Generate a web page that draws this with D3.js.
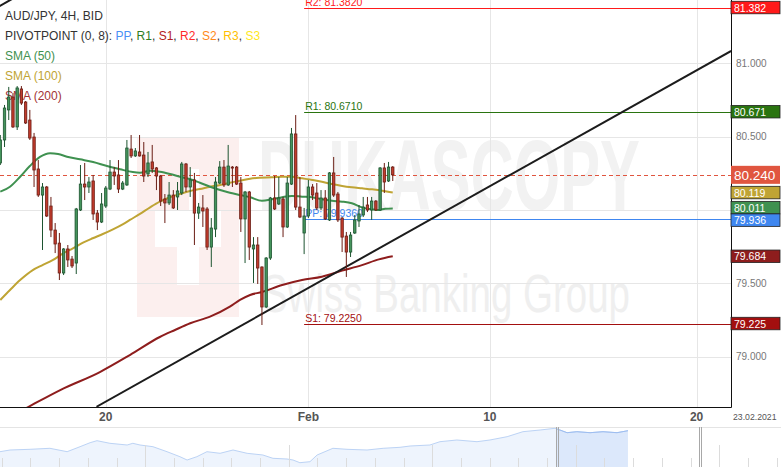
<!DOCTYPE html>
<html>
<head>
<meta charset="utf-8">
<script src="https://cdn.jsdelivr.net/npm/d3@7"></script>
<style>
  body { margin: 0; background: #fff; }
  svg { display: block; font-family: "Liberation Sans", Arial, sans-serif; }
</style>
</head>
<body>
<div id="chart"></div>
<script>

// AUD/JPY 4H candles: [open, high, low, close]
var candles = [
  [80.321, 80.512, 80.307, 80.478], [80.478, 80.717, 80.430, 80.696], [80.683, 80.840, 80.614, 80.771],
  [80.771, 80.798, 80.560, 80.567], [80.567, 80.846, 80.546, 80.833], [80.826, 80.846, 80.717, 80.730],
  [80.737, 80.744, 80.587, 80.594], [80.614, 80.683, 80.478, 80.491], [80.498, 80.526, 80.157, 80.273],
  [80.280, 80.341, 80.089, 80.102], [80.102, 80.184, 79.727, 80.157], [80.157, 80.164, 79.952, 79.959],
  [80.027, 80.089, 79.815, 79.863], [79.863, 79.911, 79.706, 79.768], [79.774, 79.843, 79.522, 79.570],
  [79.570, 79.740, 79.556, 79.734], [79.734, 79.761, 79.611, 79.659], [79.665, 79.686, 79.604, 79.618],
  [79.638, 80.014, 79.563, 80.007], [80.000, 80.307, 79.993, 80.177], [80.177, 80.321, 80.068, 80.157],
  [80.157, 80.225, 80.116, 80.191], [80.198, 80.239, 79.932, 79.973], [79.979, 80.000, 79.863, 79.918],
  [79.918, 80.116, 79.911, 80.041], [80.027, 80.164, 80.014, 80.150], [80.143, 80.341, 80.136, 80.259],
  [80.259, 80.293, 80.171, 80.232], [80.239, 80.341, 80.116, 80.143], [80.143, 80.198, 80.136, 80.184],
  [80.171, 80.478, 80.164, 80.423], [80.416, 80.512, 80.355, 80.369], [80.369, 80.423, 80.362, 80.403],
  [80.396, 80.512, 80.365, 80.369], [80.375, 80.464, 80.191, 80.232], [80.246, 80.396, 80.225, 80.321],
  [80.328, 80.444, 80.253, 80.280], [80.287, 80.293, 80.136, 80.232], [80.232, 80.239, 80.027, 80.061],
  [80.075, 80.109, 79.911, 80.048], [80.048, 80.191, 80.034, 80.102], [80.102, 80.136, 80.007, 80.014],
  [80.089, 80.191, 80.000, 80.130], [80.116, 80.328, 80.102, 80.314], [80.314, 80.321, 80.123, 80.157],
  [80.157, 80.293, 80.089, 80.205], [80.205, 80.253, 79.761, 79.979], [79.979, 80.048, 79.939, 80.020],
  [80.014, 80.102, 79.884, 79.993], [80.007, 80.020, 79.727, 79.747], [79.747, 79.945, 79.611, 79.877],
  [79.870, 80.225, 79.815, 80.191], [80.184, 80.334, 80.177, 80.293], [80.293, 80.341, 80.157, 80.171],
  [80.171, 80.444, 80.164, 80.300], [80.293, 80.300, 80.157, 80.287], [80.293, 80.300, 80.171, 80.177],
  [80.184, 80.225, 79.850, 79.939], [79.939, 80.130, 79.638, 80.123], [80.123, 80.130, 79.659, 79.747],
  [79.734, 79.815, 79.502, 79.761], [79.761, 79.815, 79.495, 79.604], [79.611, 79.615, 79.215, 79.338],
  [79.338, 79.679, 79.331, 79.672], [79.672, 80.089, 79.659, 80.082], [80.082, 80.232, 80.000, 80.007],
  [80.041, 80.225, 80.034, 80.082], [80.075, 80.089, 79.815, 79.884], [79.884, 80.225, 79.877, 80.184],
  [80.177, 80.560, 80.171, 80.519], [80.519, 80.648, 80.000, 80.020], [80.020, 80.225, 79.945, 79.952],
  [79.843, 80.014, 79.699, 79.959], [79.959, 80.205, 79.945, 80.157], [80.157, 80.177, 80.068, 80.102],
  [80.116, 80.184, 80.000, 80.014], [80.014, 80.136, 80.000, 80.082], [80.082, 80.136, 79.932, 79.939],
  [79.932, 80.259, 79.925, 80.253], [80.253, 80.362, 80.089, 80.102], [80.109, 80.123, 79.918, 79.932],
  [79.945, 79.952, 79.713, 79.815], [79.822, 79.850, 79.543, 79.713], [79.713, 79.850, 79.679, 79.829],
  [79.843, 79.966, 79.836, 79.932], [79.925, 80.034, 79.884, 79.973], [79.966, 80.089, 79.952, 80.020],
  [80.034, 80.089, 79.986, 80.000], [80.000, 80.089, 79.932, 80.061], [80.061, 80.068, 79.993, 80.000],
  [80.000, 80.293, 79.993, 80.287], [80.287, 80.321, 80.116, 80.191], [80.198, 80.328, 80.191, 80.293],
  [80.293, 80.300, 80.198, 80.240]
];

// moving averages: [candle index, value]
var sma50 = [
  [0, 80.125], [2.3, 80.159], [4.7, 80.227], [7, 80.300], [9.4, 80.362], [11.8, 80.387], [13.7, 80.382],
  [15.8, 80.364], [18.9, 80.346], [22, 80.328], [25.3, 80.300], [28.4, 80.278], [31.4, 80.259],
  [33.1, 80.255], [35.5, 80.268], [37.8, 80.261], [40.2, 80.246], [42.6, 80.227], [45, 80.210],
  [47.3, 80.186], [49.7, 80.159], [52.1, 80.136], [54.4, 80.118], [56.8, 80.102], [59.2, 80.087],
  [62, 80.063], [64.4, 80.073], [66.8, 80.087], [69.1, 80.096], [71.5, 80.091], [73.9, 80.087],
  [76.2, 80.073], [78.6, 80.063], [81, 80.057], [83.3, 80.046], [85.7, 80.018], [88.1, 80.005],
  [89.7, 80.000], [91.2, 80.009], [93, 80.011]
];
var sma100 = [
  [0, 79.386], [2.3, 79.454], [4.7, 79.522], [7.7, 79.590], [10.1, 79.625], [12.5, 79.659], [14.9, 79.704],
  [17.2, 79.738], [19.6, 79.777], [21.9, 79.807], [24.3, 79.836], [26.7, 79.868], [29.1, 79.904],
  [30.7, 79.932], [33.1, 79.973], [35.5, 80.018], [37.8, 80.057], [40.2, 80.087], [42.6, 80.109],
  [45, 80.130], [47.3, 80.143], [49.7, 80.159], [52.1, 80.171], [54.4, 80.186], [56.8, 80.200],
  [59.2, 80.214], [61.5, 80.220], [64.4, 80.223], [66.8, 80.227], [69.1, 80.227], [71.5, 80.216],
  [73.9, 80.205], [76.2, 80.193], [78.6, 80.177], [81, 80.164], [83.3, 80.155], [85.7, 80.148],
  [88.1, 80.141], [90.5, 80.132], [93, 80.119]
];
var sma200 = [
  [0, 78.553], [6.6, 78.655], [14.2, 78.771], [23.6, 78.894], [30.7, 79.010], [37.8, 79.133],
  [41.4, 79.181], [45, 79.227], [49.7, 79.272], [54.4, 79.340], [56.8, 79.386], [59.2, 79.420],
  [62, 79.440], [66.8, 79.488], [71.5, 79.522], [76.2, 79.545], [81, 79.586], [85.7, 79.624],
  [89.7, 79.663], [93, 79.684]
];

// weekly pivot points, starting at the first candle of the week
var pivotNames = ["R2", "R1", "PP", "S1"];
var pivotValues = [81.382, 80.671, 79.936, 79.225];
var pivotStart = 72;

// hand drawn trend lines: [candle index, price]
var trendMain = [[22.8, 78.657], [173.2, 81.086]];
var trendUpper = [[-1, 81.379], [12, 81.589]];

var lastPrice = 80.240;
var priceTicks = [81.0, 80.5, 80.0, 79.5, 79.0];
var dateTickIdx = [25, 73, 116, 165];
var dateTickLabels = ["20", "Feb", "10", "20"];
var endDate = "23.02.2021";

// navigator overview line: [week, level]
var navLine = [
  [-0.06, 77.06], [0.29, 77.4], [0.99, 77.54], [1.68, 77.74], [2.28, 77.06], [2.73, 78.06], [3.08, 78.86],
  [3.32, 79.26], [3.77, 78.74], [4.37, 78.4], [4.57, 78.74], [4.82, 78.4], [5.27, 78.06], [5.76, 77.06],
  [6.21, 76.06], [6.46, 75.4], [6.8, 76.06], [7.15, 77.06], [7.61, 76.74], [8.06, 77.4], [8.55, 76.74],
  [9.1, 76.4], [9.45, 75.74], [9.94, 75.6], [10.15, 75.4], [10.39, 74.86], [10.74, 75.06], [10.99, 76.4],
  [11.54, 77.74], [12.03, 77.54], [12.73, 77.4], [13.29, 77.74], [13.88, 77.94], [14.23, 78.2],
  [14.92, 78.4], [15.27, 79.06], [15.86, 79.4], [16.56, 79.06], [17.01, 79.4], [17.61, 80.06],
  [18.16, 81.06], [18.76, 81.4], [19.28, 81.74], [19.45, 81.4], [19.7, 80.86], [20.04, 81.06],
  [20.5, 80.86], [20.95, 81.06], [21.44, 80.86], [21.82, 81.26]
];
var navSelection = [19.35, 24.33];

var colors = {
  up: "#45945c", upLine: "#1d5430", down: "#c23b2c", downLine: "#6a1d14",
  sma50: "#3f9150", sma100: "#bfa434", sma200: "#8e1d1d",
  R2: "#ff1a1a", R1: "#2a7410", PP: "#3f87f0", S1: "#a30f0f",
  last: "#e0553f", grid: "#e6e6e6"
};

var W = 781, H = 467,
    plot_dx = 731, plot_dy = 407;

var x = d3.scaleLinear().domain([0, 173]).range([0.3, 730.36]),
    y = d3.scaleLinear().domain([78.6553, 81.4334]).range([plot_dy, 0]);

var svg = d3.select("#chart")
            .append("svg")
            .attr("width", W)
            .attr("height", H);

svg.append("clipPath").attr("id", "plotclip")
   .append("rect").attr("x", 0).attr("y", 0).attr("width", plot_dx).attr("height", plot_dy);

var plot = svg.append("g").attr("clip-path", "url(#plotclip)");

// watermark
var wm = plot.append("g");
wm.append("rect").attr("x", 137).attr("y", 137).attr("width", 102).attr("height", 180).attr("fill", "#fcefee");
wm.append("rect").attr("x", 155).attr("y", 210).attr("width", 66).attr("height", 37).attr("fill", "#fff");
wm.append("rect").attr("x", 189).attr("y", 169).attr("width", 10).attr("height", 78).attr("fill", "#fff");
wm.append("rect").attr("x", 177).attr("y", 247).attr("width", 22).attr("height", 38).attr("fill", "#fff");
wm.append("text").attr("x", 258).attr("y", 210)
  .attr("font-size", 100).attr("font-weight", "bold")
  .attr("textLength", 382).attr("lengthAdjust", "spacingAndGlyphs")
  .attr("fill", "#f2f2f2").text("DUKASCOPY");
wm.append("text").attr("x", 262).attr("y", 312)
  .attr("font-size", 54)
  .attr("textLength", 368).attr("lengthAdjust", "spacingAndGlyphs")
  .attr("fill", "#efefef").text("Swiss Banking Group");

// grid
plot.append("g").selectAll("line").data(priceTicks).enter().append("line")
    .attr("x1", 0).attr("x2", plot_dx)
    .attr("y1", d => Math.round(y(d)) + 0.5).attr("y2", d => Math.round(y(d)) + 0.5)
    .attr("stroke", colors.grid);
plot.append("g").selectAll("line").data(dateTickIdx).enter().append("line")
    .attr("x1", d => Math.round(x(d)) + 0.5).attr("x2", d => Math.round(x(d)) + 0.5)
    .attr("y1", 0).attr("y2", plot_dy)
    .attr("stroke", colors.grid);

// legend (sits under the candles)
var legend = plot.append("g").attr("font-size", 12);
legend.append("text").attr("x", 5).attr("y", 20).attr("fill", "#333").text("AUD/JPY, 4H, BID");
var pv = legend.append("text").attr("x", 5).attr("y", 40).attr("fill", "#333");
pv.append("tspan").text("PIVOTPOINT (0, 8): ");
var pvNames = ["PP", "R1", "S1", "R2", "S2", "R3", "S3"],
    pvColors = ["#4a8ff5", "#2e7d1f", "#b32020", "#ff2a2a", "#ff8a1a", "#ffbf00", "#ffe81a"];
pvNames.forEach(function (n, i) {
    pv.append("tspan").attr("fill", pvColors[i]).text(n);
    if (i < pvNames.length - 1) pv.append("tspan").attr("fill", "#333").text(", ");
});
legend.append("text").attr("x", 5).attr("y", 60).attr("fill", colors.sma50).text("SMA (50)");
legend.append("text").attr("x", 5).attr("y", 80).attr("fill", colors.sma100).text("SMA (100)");
legend.append("text").attr("x", 5).attr("y", 100).attr("fill", "#a33535").text("SMA (200)");

// pivot lines + labels
var pivots = pivotNames.map((n, i) => ({name: n, value: pivotValues[i]}));
var pg = plot.append("g");
pg.selectAll("line").data(pivots).enter().append("line")
  .attr("x1", x(pivotStart)).attr("x2", plot_dx)
  .attr("y1", d => Math.round(y(d.value)) + 0.5).attr("y2", d => Math.round(y(d.value)) + 0.5)
  .attr("stroke", d => colors[d.name]);
pg.selectAll("text").data(pivots).enter().append("text")
  .attr("x", x(pivotStart) + 1).attr("y", d => y(d.value) - 2)
  .attr("font-size", 10.5)
  .attr("fill", d => colors[d.name])
  .text(d => d.name + ": " + d.value.toFixed(4));

// last price dashed line
plot.append("line")
    .attr("x1", 0).attr("x2", plot_dx)
    .attr("y1", Math.round(y(lastPrice)) + 0.5).attr("y2", Math.round(y(lastPrice)) + 0.5)
    .attr("stroke", colors.last).attr("stroke-dasharray", "4,3");

// moving averages
var smaLine = d3.line().x(d => x(d[0])).y(d => y(d[1])).curve(d3.curveMonotoneX);
[[sma200, colors.sma200], [sma100, colors.sma100], [sma50, colors.sma50]].forEach(function (s) {
    plot.append("path").datum(s[0])
        .attr("d", smaLine)
        .attr("fill", "none")
        .attr("stroke", s[1])
        .attr("stroke-width", 2);
});

// trend lines
var tl = d3.line().x(d => x(d[0])).y(d => y(d[1]));
[trendMain, trendUpper].forEach(function (t) {
    plot.append("path").datum(t).attr("d", tl)
        .attr("fill", "none").attr("stroke", "#1c1c1c").attr("stroke-width", 2);
});

// candles
var cg = plot.append("g").selectAll("g").data(candles).enter().append("g");
cg.append("line")
  .attr("x1", (d, i) => x(i)).attr("x2", (d, i) => x(i))
  .attr("y1", d => y(d[1])).attr("y2", d => y(d[2]))
  .attr("stroke", d => d[3] >= d[0] ? colors.upLine : colors.downLine)
  .attr("stroke-width", 1);
cg.append("rect")
  .attr("x", (d, i) => x(i) - 1.2)
  .attr("width", 2.4)
  .attr("y", d => y(Math.max(d[0], d[3])))
  .attr("height", d => Math.max(1, Math.abs(y(d[0]) - y(d[3]))))
  .attr("fill", d => d[3] >= d[0] ? colors.up : colors.down)
  .attr("stroke", d => d[3] >= d[0] ? colors.upLine : colors.downLine)
  .attr("stroke-width", 0.8);

// frame
svg.append("line").attr("x1", 0).attr("x2", plot_dx + 0.5).attr("y1", plot_dy + 0.5).attr("y2", plot_dy + 0.5)
   .attr("stroke", "#111");
svg.append("line").attr("x1", plot_dx + 0.5).attr("x2", plot_dx + 0.5).attr("y1", 0).attr("y2", plot_dy + 0.5)
   .attr("stroke", "#111");

// right price axis
svg.append("g").selectAll("text").data(priceTicks).enter().append("text")
   .attr("x", 736).attr("y", d => y(d) + 3.5)
   .attr("font-size", 10).attr("fill", "#777")
   .text(d => d3.format(".3f")(d));

// date axis
svg.append("g").selectAll("text").data(dateTickIdx).enter().append("text")
   .attr("x", d => x(d)).attr("y", 421)
   .attr("text-anchor", "middle").attr("font-size", 12).attr("font-weight", "bold").attr("fill", "#555")
   .text((d, i) => dateTickLabels[i]);
svg.append("text").attr("x", 733).attr("y", 420)
   .attr("font-size", 8.7).attr("fill", "#555").text(endDate);

// price badges on the right axis
var badges = [
  {v: pivotValues[0], c: colors.R2},
  {v: pivotValues[1], c: colors.R1},
  {v: lastPrice, c: colors.last, big: true},
  {v: sma100[sma100.length - 1][1], c: colors.sma100},
  {v: sma50[sma50.length - 1][1], c: colors.sma50},
  {v: pivotValues[2], c: colors.PP},
  {v: sma200[sma200.length - 1][1], c: colors.sma200},
  {v: pivotValues[3], c: colors.S1}
];
badges.forEach(b => { b.h = b.big ? 18 : 12.5; b.y = y(b.v); });
badges.sort((a, b) => a.y - b.y);
for (var it = 0; it < 10; it++) {
    for (var k = 0; k < badges.length - 1; k++) {
        var a = badges[k], b = badges[k + 1],
            need = (a.h + b.h) / 2 - (b.y - a.y);
        if (need > 0) { a.y -= need / 2; b.y += need / 2; }
    }
}
var bg = svg.append("g").selectAll("g").data(badges).enter().append("g");
bg.append("rect")
  .attr("x", plot_dx).attr("width", 49)
  .attr("y", d => d.y - d.h / 2).attr("height", d => d.h)
  .attr("fill", d => d.c)
  .attr("stroke", d => d.big ? "none" : "#222").attr("stroke-width", 0.8);
bg.append("text")
  .attr("x", 734).attr("y", d => d.y + (d.big ? 5 : 4))
  .attr("font-size", d => d.big ? 13.5 : 10.5)
  .attr("fill", "#fff")
  .text(d => d.v.toFixed(3));

// navigator
var nx = d3.scaleLinear().domain([0, 27]).range([1.7, 776.6]),
    ny = d3.scaleLinear().domain([74, 82]).range([467, 427]);

svg.append("line").attr("x1", 0).attr("x2", W).attr("y1", 427.5).attr("y2", 427.5).attr("stroke", "#e4e4e4");

var navArea = d3.area().x(d => nx(d[0])).y0(467).y1(d => ny(d[1])),
    navPath = d3.line().x(d => nx(d[0])).y(d => ny(d[1]));

svg.append("path").datum(navLine).attr("d", navArea).attr("fill", "#eef4fd");
svg.append("clipPath").attr("id", "navsel")
   .append("rect").attr("x", nx(navSelection[0])).attr("y", 427)
   .attr("width", nx(navSelection[1]) - nx(navSelection[0])).attr("height", 40);
svg.append("path").datum(navLine).attr("d", navArea).attr("fill", "#dce8fb").attr("clip-path", "url(#navsel)");
svg.append("path").datum(navLine).attr("d", navPath).attr("fill", "none").attr("stroke", "#bcd3f5");
svg.append("path").datum(navLine).attr("d", navPath).attr("fill", "none").attr("stroke", "#9dbdf0")
   .attr("clip-path", "url(#navsel)");

svg.append("g").selectAll("line").data(d3.range(0, 28)).enter().append("line")
   .attr("x1", d => Math.round(nx(d)) + 0.5).attr("x2", d => Math.round(nx(d)) + 0.5)
   .attr("y1", d => (d > 0 && d % 5 === 0) ? 445 : 458).attr("y2", H)
   .attr("stroke", "#dcdcdc");

svg.append("g").selectAll("g").data(navSelection).enter().append("g")
   .each(function (d) {
       var g = d3.select(this), xx = Math.round(nx(d));
       g.append("line").attr("x1", xx - 0.5).attr("x2", xx - 0.5).attr("y1", 427).attr("y2", H).attr("stroke", "#a8a8a8");
       g.append("line").attr("x1", xx + 1.5).attr("x2", xx + 1.5).attr("y1", 427).attr("y2", H).attr("stroke", "#a8a8a8");
   });

</script>
</body>
</html>
